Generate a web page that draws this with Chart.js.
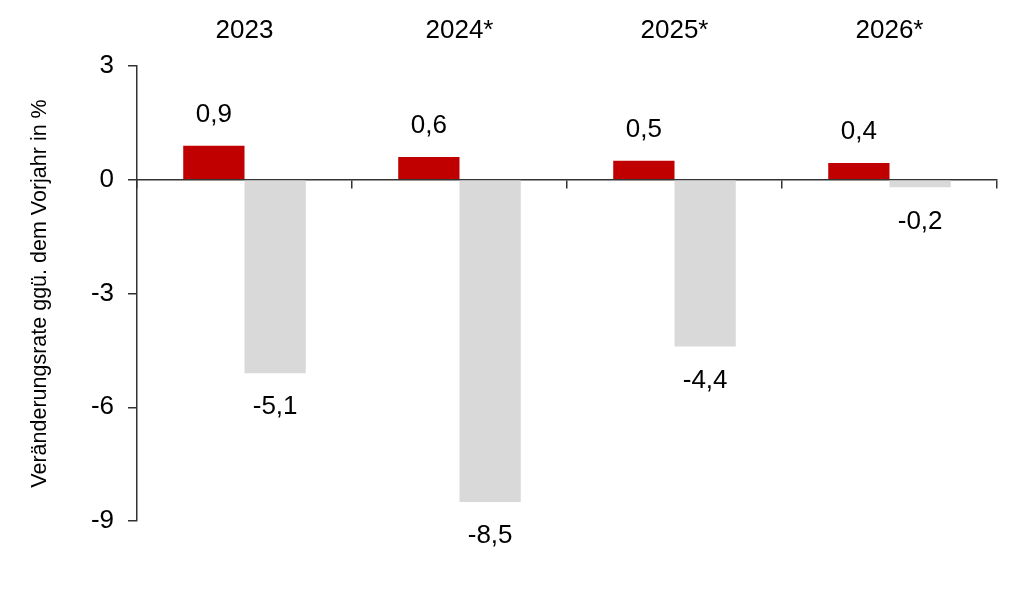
<!DOCTYPE html>
<html>
<head>
<meta charset="utf-8">
<script src="https://cdn.jsdelivr.net/npm/chart.js@4.4.1/dist/chart.umd.min.js"></script>
<style>
  html, body { margin: 0; padding: 0; background: #fff; }
  #wrap { width: 1024px; height: 594px; }
</style>
</head>
<body>
<div id="wrap"><canvas id="chart" width="1024" height="594"></canvas></div>
<script>
// Daten
const jahre = ['2023', '2024*', '2025*', '2026*'];
const werteRot = [0.9, 0.6, 0.5, 0.44];
const werteGrau = [-5.1, -8.5, -4.4, -0.2];
const yTicks = [3, 0, -3, -6, -9];

const ROT = '#C00000';
const GRAU = '#D9D9D9';
const ACHSE = '#333333';
const SCHRIFT = 'Liberation Sans, Arial, Helvetica, sans-serif';

// Werte über/unter den Balken
const wertLabels = {
    id: 'wertLabels',
    afterDatasetsDraw(chart) {
        const ctx = chart.ctx;
        ctx.save();
        ctx.fillStyle = '#000';
        ctx.font = '26px ' + SCHRIFT;
        ctx.textAlign = 'center';
        ctx.textBaseline = 'middle';
        chart.data.datasets.forEach((ds, i) => {
            const meta = chart.getDatasetMeta(i);
            meta.data.forEach((bar, j) => {
                const v = ds.data[j];
                const txt = v.toFixed(1).replace('.', ',');
                const y = v >= 0 ? bar.y - 31 : bar.y + 34;
                ctx.fillText(txt, bar.x, y);
            });
        });
        ctx.restore();
    }
};

new Chart(document.getElementById('chart'), {
    type: 'bar',
    data: {
        labels: jahre,
        datasets: [
            { data: werteRot, backgroundColor: ROT, categoryPercentage: 0.57, barPercentage: 1.0 },
            { data: werteGrau, backgroundColor: GRAU, categoryPercentage: 0.57, barPercentage: 1.0 }
        ]
    },
    options: {
        responsive: false,
        animation: false,
        layout: { padding: { top: 0, right: 27, bottom: 73, left: 0 } },
        plugins: { legend: { display: false }, tooltip: { enabled: false } },
        scales: {
            x: {
                position: { y: 0 },
                offset: true,
                grid: { drawOnChartArea: false, drawTicks: true, tickLength: 8, offset: true, color: ACHSE, lineWidth: 1.5 },
                border: { display: true, color: ACHSE, width: 1.5 },
                ticks: { display: false }
            },
            xTop: {
                type: 'category',
                position: 'top',
                offset: true,
                grid: { display: false, drawTicks: false },
                border: { display: false },
                ticks: { padding: 20, color: '#000', font: { family: SCHRIFT, size: 26 } },
                afterFit: s => { s.height = 66; }
            },
            y: {
                min: -9,
                max: 3,
                afterBuildTicks: s => { s.ticks = yTicks.map(v => ({ value: v })); },
                grid: { drawOnChartArea: false, drawTicks: true, tickLength: 9, color: ACHSE, lineWidth: 1.5 },
                border: { display: true, color: ACHSE, width: 1.5 },
                ticks: { padding: 14, color: '#000', font: { family: SCHRIFT, size: 26 } },
                title: {
                    display: true,
                    text: 'Veränderungsrate ggü. dem Vorjahr in %',
                    color: '#000',
                    font: { family: SCHRIFT, size: 21.5 },
                    padding: { top: 27, bottom: 0 }
                },
                afterFit: s => { s.width = 137; }
            }
        }
    },
    plugins: [wertLabels]
});
</script>
</body>
</html>
